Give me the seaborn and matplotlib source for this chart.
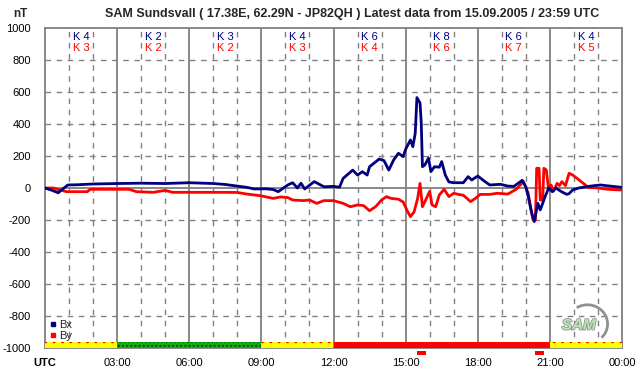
import numpy as np
import pandas as pd
import matplotlib
matplotlib.use("Agg")
import matplotlib.pyplot as plt
import matplotlib.patches as mpatches
import matplotlib.patheffects as pe
from matplotlib.lines import Line2D
import seaborn as sns

# ---------------- data ----------------
bx_hours = [0, 0.3, 0.55, 0.75, 0.95, 1.3, 2.0, 3.0, 4.0, 5.0, 6.0, 7.0, 7.5, 8.0, 8.4, 8.7,
            9.2, 9.5, 9.7, 10.1, 10.3, 10.5, 10.65, 10.8, 11.2, 11.6, 12.0, 12.25, 12.4, 12.8,
            13.0, 13.2, 13.4, 13.5, 13.9, 14.1, 14.3, 14.5, 14.7, 14.9, 15.0, 15.2, 15.3, 15.4,
            15.47, 15.6, 15.65, 15.7, 15.8, 15.95, 16.05, 16.2, 16.4, 16.5, 16.65, 16.8, 17.0,
            17.4, 17.6, 17.75, 18.0, 18.3, 18.5, 18.95, 19.25, 19.5, 19.85, 20.0, 20.1, 20.25,
            20.35, 20.5, 20.6, 20.7, 20.8, 20.95, 21.1, 21.25, 21.45, 21.7, 21.8, 21.95, 22.2,
            22.7, 23.1, 23.5, 24.0]
bx_values = [0, -15, -30, -5, 19, 20, 25, 28, 30, 28, 33, 28, 22, 12, 4, -6,
             -5, -10, -23, 19, 33, 0, 30, -6, 40, 8, 10, 5, 60, 112,
             81, 102, 81, 133, 181, 171, 112, 175, 217, 196, 242, 300, 258, 342,
             565, 531, 406, 133, 144, 187, 102, 133, 130, 165, 81, 38, 33,
             33, 71, 50, 75, 40, 19, 23, 12, 10, 48, 8, -54, -158,
             -210, -96, -137, -96, -54, 0, -23, 0, -20, -40, -35, -12, 0,
             12, 19, 12, 4]

by_hours = [0, 0.35, 0.6, 0.9, 1.75, 1.9, 3.5, 3.8, 4.5, 5.0, 5.3, 6.0, 7.5, 8.0, 8.4, 8.95,
            9.5, 9.8, 10.1, 10.3, 10.75, 11.0, 11.3, 11.6, 12.0, 12.4, 12.7, 13.0, 13.25, 13.5,
            13.75, 14.0, 14.2, 14.4, 14.7, 14.9, 15.05, 15.2, 15.35, 15.5, 15.6, 15.7, 15.9,
            16.0, 16.1, 16.25, 16.4, 16.6, 16.8, 17.0, 17.2, 17.4, 17.7, 17.9, 18.1, 18.5,
            18.8, 19.25, 19.6, 19.9, 20.1, 20.2, 20.3, 20.4, 20.45, 20.55, 20.6, 20.7, 20.75,
            20.85, 20.95, 21.05, 21.15, 21.3, 21.4, 21.5, 21.65, 21.8, 21.95, 22.3, 22.6, 23.0,
            23.4, 23.9, 24.0]
by_values = [0, 0, -12, -23, -23, -8, -8, -23, -27, -15, -27, -27, -27, -28, -38, -48,
             -65, -56, -60, -75, -79, -75, -96, -79, -79, -96, -117, -106, -110, -142,
             -117, -75, -54, -65, -70, -88, -137, -179, -150, -65, 29, -117, -54,
             -21, -106, -117, -44, -8, -54, -33, -40, -45, -85, -65, -40, -40,
             -33, -38, -8, 40, -33, -127, -200, -200, 123, 123, -75, -75, 123,
             113, -12, 19, -20, 29, 15, 40, 15, 92, 81, 40, 4, 0,
             -8, -12, -12]

k_bx = ["K 4", "K 2", "K 3", "K 4", "K 6", "K 8", "K 6", "K 4"]
k_by = ["K 3", "K 2", "K 2", "K 3", "K 4", "K 6", "K 7", "K 5"]

xtick_labels = ["UTC", "03:00", "06:00", "09:00", "12:00", "15:00", "18:00", "21:00", "00:00"]

status_start = [0, 3, 9, 12, 21]
status_end = [3, 9, 12, 21, 24]
status_kind = ["quiet", "calm", "quiet", "storm", "quiet"]

alert_start = [15.46, 20.4]
alert_end = [15.83, 20.75]

# ---------------- style ----------------
sns.set_style("white")
plt.rcParams['font.family'] = ['Liberation Sans', 'DejaVu Sans']

NAVY = "#000080"
RED = "#ff0000"
GRID = "#808080"

fig = plt.figure(figsize=(6.42, 3.76), dpi=100)
W, H = 642, 376
ax = fig.add_axes([45 / W, 1 - 348 / H, (622 - 45) / W, (348 - 28) / H])

df = pd.concat([
    pd.DataFrame({"hour": bx_hours, "nT": bx_values, "comp": "Bx"}),
    pd.DataFrame({"hour": by_hours, "nT": by_values, "comp": "By"}),
])

# grid
for h in range(1, 24):
    if h % 3 == 0:
        ax.axvline(h, color=GRID, lw=1.3, zorder=1)
    else:
        ax.axvline(h, color=GRID, lw=1.0, ls=(0, (4, 4)), zorder=1)
for v in range(-800, 1000, 200):
    if v == 0:
        ax.axhline(v, color=GRID, lw=1.3, zorder=1)
    else:
        ax.axhline(v, color=GRID, lw=1.0, ls=(0, (4, 4)), zorder=1)

sns.lineplot(data=df, x="hour", y="nT", hue="comp", palette={"Bx": NAVY, "By": RED},
             hue_order=["By", "Bx"], sort=False, estimator=None, lw=2.0, legend=False,
             ax=ax, zorder=3)

ax.set_xlim(0, 24)
ax.set_ylim(-1000, 1000)
ax.set_xticks(range(0, 25, 3))
ax.set_xticks(range(0, 25, 1), minor=True)
ax.set_xticklabels(xtick_labels)
ax.set_yticks(range(-1000, 1001, 200))
ax.set_yticklabels([str(v) for v in range(-1000, 1001, 200)])
ax.set_xlabel("")
ax.set_ylabel("")
ax.tick_params(axis="both", which="both", direction="out", length=4, width=1,
               color=GRID, labelsize=8, labelcolor="black")
ax.tick_params(axis="y", pad=6)
ax.tick_params(axis="x", pad=3)
ax.get_xticklabels()[0].set_fontweight("bold")
for s in ax.spines.values():
    s.set_color(GRID)
    s.set_linewidth(1.3)

# status bar
for s0, s1, kind in zip(status_start, status_end, status_kind):
    if kind == "quiet":
        p = mpatches.Rectangle((s0, -1000), s1 - s0, 35, facecolor="#ffff00",
                               edgecolor=RED, hatch="..", lw=0, zorder=4)
    elif kind == "calm":
        p = mpatches.Rectangle((s0, -1000), s1 - s0, 35, facecolor="#10b010",
                               edgecolor="#005000", hatch="....", lw=0, zorder=4)
    else:
        p = mpatches.Rectangle((s0, -1000), s1 - s0, 35, facecolor=RED,
                               edgecolor=RED, lw=0, zorder=4)
    ax.add_patch(p)

# alert markers below axis
trans = matplotlib.transforms.blended_transform_factory(ax.transData, ax.transAxes)
for a0, a1 in zip(alert_start, alert_end):
    ax.add_patch(mpatches.Rectangle((a0, -0.023), a1 - a0, 0.013, transform=trans,
                                    facecolor=RED, lw=0, clip_on=False, zorder=5))

# K indices
for i, (kx, ky) in enumerate(zip(k_bx, k_by)):
    xc = 1.5 + 3 * i
    ax.text(xc, 944, kx, color=NAVY, fontsize=8, ha="center", va="center", zorder=5)
    ax.text(xc, 875, ky, color=RED, fontsize=8, ha="center", va="center", zorder=5)

# legend
handles = [Line2D([], [], color=NAVY, marker="s", ls="", markersize=3),
           Line2D([], [], color=RED, marker="s", ls="", markersize=3)]
leg = ax.legend(handles, ["Bx", "By"], loc="lower left", bbox_to_anchor=(-0.005, -0.002),
                frameon=False, fontsize=8, handlelength=0.6, handletextpad=0.2,
                labelspacing=0.05, borderpad=0.2)
leg.set_zorder(6)

# logo
logo = ax.text(0.925, 0.07, "SAM", transform=ax.transAxes, fontsize=11, fontstyle="italic",
               fontweight="bold", color="#b8e8b8", ha="center", va="center", zorder=5,
               path_effects=[pe.withStroke(linewidth=1.2, foreground="#909090")])
arc = mpatches.Arc((0.94, 0.075), 0.07, 0.12, angle=0, theta1=-60, theta2=110,
                   transform=ax.transAxes, color="#909090", lw=2.0, zorder=5)
ax.add_patch(arc)

# titles
fig.text(352 / W, 1 - 14 / H,
         "SAM Sundsvall ( 17.38E, 62.29N - JP82QH ) Latest data from 15.09.2005 / 23:59 UTC",
         ha="center", va="center", fontsize=9, fontweight="bold")
fig.text(20 / W, 1 - 14 / H, "nT", ha="center", va="center", fontsize=8.5, fontweight="bold")

fig.savefig("out.png", dpi=100, facecolor="white")
